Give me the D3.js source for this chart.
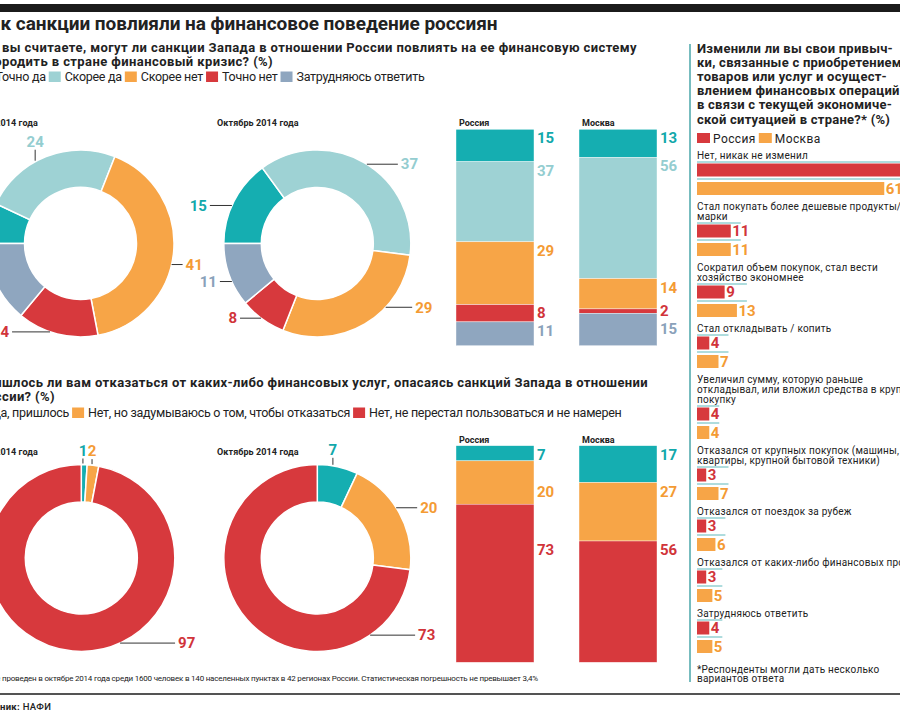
<!DOCTYPE html>
<html lang="ru">
<head>
<meta charset="utf-8">
<script src="https://cdn.jsdelivr.net/npm/d3@7/dist/d3.min.js"></script>
<style>
  body { margin: 0; background: #fff; }
  svg { display: block; fill: #222; font-family: Roboto, "Open Sans", sans-serif; }
  .num { font-weight: 700; font-size: 15px; }
</style>
</head>
<body>
<svg id="chart" width="900" height="720"></svg>
<script>
// ---- data ----
const chartTitle = 'Как санкции повлияли на финансовое поведение россиян';
const q1Lines = ['Как вы считаете, могут ли санкции Запада в отношении России повлиять на ее финансовую систему',
                 'и породить в стране финансовый кризис? (%)'];
const q1Answers = ['Точно да', 'Скорее да', 'Скорее нет', 'Точно нет', 'Затрудняюсь ответить'];
const q1Earlier = [7, 24, 41, 14, 14];
const q1October = [15, 37, 29, 8, 11];
const q1Russia = [15, 37, 29, 8, 11];
const q1Moscow = [13, 56, 14, 2, 15];

const q2Lines = ['Пришлось ли вам отказаться от каких-либо финансовых услуг, опасаясь санкций Запада в отношении',
                 'России? (%)'];
const q2Answers = ['Да, пришлось', 'Нет, но задумываюсь о том, чтобы отказаться', 'Нет, не перестал пользоваться и не намерен'];
const q2Earlier = [1, 2, 97];
const q2October = [7, 20, 73];
const q2Russia = [7, 20, 73];
const q2Moscow = [17, 27, 56];

const periodLabels = ['Июль 2014 года', 'Октябрь 2014 года'];
const regionLabels = ['Россия', 'Москва'];

const habitTitle = ['Изменили ли вы свои привыч-', 'ки, связанные с приобретением', 'товаров или услуг и осущест-',
                    'влением финансовых операций', 'в связи с текущей экономиче-', 'ской ситуацией в стране?* (%)'];
const habitItems = [
  'Нет, никак не изменил',
  'Стал покупать более дешевые продукты/\nмарки',
  'Сократил объем покупок, стал вести\nхозяйство экономнее',
  'Стал откладывать / копить',
  'Увеличил сумму, которую раньше\nоткладывал, или вложил средства в крупную\nпокупку',
  'Отказался от крупных покупок (машины,\nквартиры, крупной бытовой техники)',
  'Отказался от поездок за рубеж',
  'Отказался от каких-либо финансовых продуктов',
  'Затрудняюсь ответить'
];
const habitRussia = [71, 11, 9, 4, 4, 3, 3, 3, 4];
const habitMoscow = [61, 11, 13, 7, 4, 7, 6, 5, 5];
const habitNote = ['*Респонденты могли дать несколько', 'вариантов ответа'];

const surveyNote = 'Опрос проведен в октябре 2014 года среди 1600 человек в 140 населенных пунктах в 42 регионах России. Статистическая погрешность не превышает 3,4%';

// ---- styles ----
const TEAL = '#15aeb1', LTEAL = '#9ed2d4', ORANGE = '#f7a547', RED = '#d7393d', GREY = '#8fa6bf';
const q1Colors = [TEAL, LTEAL, ORANGE, RED, GREY];
const q1LabelColors = ['#12a8ab', '#94cdd0', '#f49b34', '#d1343a', '#8aa1ba'];
const q2Colors = [TEAL, ORANGE, RED];
const q2LabelColors = ['#12a8ab', '#f49b34', '#d1343a'];

const svg = d3.select('#chart');
const R_OUT = 93.5, R_IN = 56;
const SW = 12;

// letter-spacing that makes str come out `width` px wide
function spacingFor(str, size, weight, width) {
  const t = svg.append('text').attr('font-size', size).attr('font-weight', weight).text(str);
  const w = t.node().getComputedTextLength();
  t.remove();
  return (width - w) / str.length;
}

// text whose first `cut` characters fall left of the frame; visible part starts at x
function cutText(parent, full, cut, x, y, size, weight, ls) {
  const t = parent.append('text').attr('y', y).attr('font-size', size)
    .attr('font-weight', weight).attr('letter-spacing', ls).text(full);
  const shift = cut ? t.node().getSubStringLength(0, cut) : 0;
  t.attr('x', x - shift);
  return t;
}

function legend(labels, colors, y, visX, cut, ls) {
  let x = 0;
  labels.forEach((lab, i) => {
    const t = svg.append('text').attr('y', y).attr('font-size', 12.5).attr('letter-spacing', ls).text(lab);
    const tx = i === 0 ? visX - t.node().getSubStringLength(0, cut) : x + SW + 4;
    svg.append('rect').attr('x', tx - SW - 4).attr('y', y - 9.5).attr('width', SW).attr('height', 10.5)
      .attr('fill', colors[i]);
    t.attr('x', tx);
    x = tx + t.node().getComputedTextLength() + 3;
  });
}

function donut(cx, cy, values, colors, labelColors, startDeg, leaders) {
  const a0 = startDeg * Math.PI / 180;
  const pie = d3.pie().sort(null).startAngle(a0).endAngle(a0 + 2 * Math.PI);
  const arc = d3.arc().innerRadius(R_IN).outerRadius(R_OUT);
  const g = svg.append('g').attr('transform', `translate(${cx},${cy})`);
  g.selectAll('path').data(pie(values)).join('path')
    .attr('d', arc)
    .attr('fill', (d, i) => colors[i])
    .attr('stroke', '#fff').attr('stroke-width', 1.5);

  values.forEach((v, i) => {
    const [deg, len, dir] = leaders[i];
    const a = deg * Math.PI / 180;
    const px = R_OUT * Math.sin(a), py = -R_OUT * Math.cos(a);
    const line = g.append('line').attr('stroke', '#333').attr('stroke-width', 1);
    const t = g.append('text').attr('class', 'num').attr('fill', labelColors[i]).text(v);
    if (dir === 'v') {
      line.attr('x1', px).attr('x2', px).attr('y1', py - 1).attr('y2', py - len);
      t.attr('x', px).attr('y', py - len - 3).attr('text-anchor', 'middle');
    } else {
      const s = Math.sin(a) < 0 ? -1 : 1;
      line.attr('x1', px).attr('x2', px + s * len).attr('y1', py).attr('y2', py);
      t.attr('x', px + s * (len + 3)).attr('y', py).attr('dy', '0.35em')
        .attr('text-anchor', s < 0 ? 'end' : 'start');
    }
  });
}

function stackedBars(top, height, series, colors, labelColors, alignRows) {
  const x = d3.scaleBand().domain(regionLabels).range([456, 657]).paddingInner(0.366);
  const y = d3.scaleLinear().domain([0, 100]).range([top, top + height]);
  const starts = series.map(v => [0, ...d3.cumsum(v)].slice(0, v.length));
  const GAP = 18;

  series.forEach((vals, b) => {
    const reg = regionLabels[b];
    const g = svg.append('g');
    g.append('text').attr('x', x(reg) + 3).attr('y', top - 3)
      .attr('font-size', 9).attr('font-weight', 700).text(reg);
    g.selectAll('rect').data(vals).join('rect')
      .attr('x', x(reg))
      .attr('y', (d, i) => y(starts[b][i]))
      .attr('width', x.bandwidth())
      .attr('height', d => y(d) - y(0))
      .attr('fill', (d, i) => colors[i])
      .attr('stroke', '#fff').attr('stroke-width', 0.4);

    // label rows: at segment top, spread apart when two would collide
    const ys = vals.map((v, i) => (alignRows ? d3.max(starts, s => y(s[i])) : y(starts[b][i])) + 14);
    for (let i = 1; i < ys.length; i++) {
      const need = ys[i - 1] + GAP - ys[i];
      if (need > 0) {
        const room = i > 1 ? ys[i - 1] - (ys[i - 2] + GAP) : Infinity;
        const up = Math.min(need / 2, Math.max(0, room));
        ys[i - 1] -= up;
        ys[i] += need - up;
      }
    }
    vals.forEach((v, i) => {
      g.append('text').attr('class', 'num').attr('fill', labelColors[i])
        .attr('x', x(reg) + x.bandwidth() + 3).attr('y', ys[i]).text(v);
    });
  });
}

// ---- frame ----
svg.append('rect').attr('x', 0).attr('y', 4).attr('width', 900).attr('height', 8).attr('fill', '#1b1b1b');
svg.append('line').attr('x1', 0).attr('x2', 900).attr('y1', 694).attr('y2', 694)
  .attr('stroke', '#1b1b1b').attr('stroke-width', 1.5);
svg.append('line').attr('x1', 690).attr('x2', 690).attr('y1', 44).attr('y2', 682)
  .attr('stroke', '#4aa6aa').attr('stroke-width', 1.5);

// ---- headings ----
cutText(svg, chartTitle, 2, 0.5, 30, 19, 700, spacingFor(chartTitle.slice(2), 19, 700, 497));

const q1Ls = spacingFor(q1Lines[0].slice(4), 13, 700, 635);
cutText(svg, q1Lines[0], 4, 2, 51.5, 13, 700, q1Ls);
cutText(svg, q1Lines[1], 4, 2, 65.5, 13, 700, q1Ls);
legend(q1Answers, q1Colors, 81, 2, 1, spacingFor(q1Answers[4], 12.5, 400, 128));

const q2Ls = spacingFor(q2Lines[0].slice(3), 13, 700, 646);
cutText(svg, q2Lines[0], 3, 2, 387, 13, 700, q2Ls);
cutText(svg, q2Lines[1], 3, 2, 401, 13, 700, q2Ls);
legend(q2Answers, q2Colors, 417, 0.5, 1, spacingFor(q2Answers[1], 12.5, 400, 262));

// ---- question 1 ----
cutText(svg, periodLabels[0], 6, 0.5, 126, 9, 700, 0.1);
svg.append('text').attr('x', 217).attr('y', 126).attr('font-size', 9).attr('font-weight', 700)
  .attr('letter-spacing', 0.1).text(periodLabels[1]);

// leader placement: [angle clockwise from top, length, direction]
const leadQ1Earlier = [[283, 18, 'h'], [331, 12, 'v'], [103, 11, 'h'], [199, 38, 'h'], [245, 15, 'h']];
const leadQ1October = [[294, 22, 'h'], [32, 31, 'h'], [133, 26.5, 'h'], [217, 21, 'h'], [246, 12, 'h']];
donut(80.5, 243.5, q1Earlier, q1Colors, q1LabelColors, -90, leadQ1Earlier);
donut(317.3, 243.5, q1October, q1Colors, q1LabelColors, -90, leadQ1October);
stackedBars(129.3, 216.4, [q1Russia, q1Moscow], q1Colors, q1LabelColors, false);

// ---- question 2 ----
cutText(svg, periodLabels[0], 6, 0.5, 455, 9, 700, 0.1);
svg.append('text').attr('x', 217).attr('y', 455).attr('font-size', 9).attr('font-weight', 700)
  .attr('letter-spacing', 0.1).text(periodLabels[1]);

const leadQ2Earlier = [[1, 6, 'v'], [6.6, 6, 'v'], [155.5, 55, 'h']];
const leadQ2October = [[9.6, 8, 'v'], [57.5, 21, 'h'], [145.6, 45, 'h']];
donut(81.3, 558, q2Earlier, q2Colors, q2LabelColors, 0, leadQ2Earlier);
donut(317.3, 558, q2October, q2Colors, q2LabelColors, 0, leadQ2October);
stackedBars(445.7, 216.6, [q2Russia, q2Moscow], q2Colors, q2LabelColors, true);

// ---- footnotes ----
cutText(svg, surveyNote, 6, 2, 681, 8, 400, spacingFor(surveyNote.slice(6), 8, 400, 536));
const src = svg.append('text').attr('y', 710).attr('font-size', 9.5).attr('letter-spacing', 0.3);
src.append('tspan').attr('font-weight', 700).text('Источник:');
src.append('tspan').attr('font-weight', 500).text(' НАФИ');
src.attr('x', 0 - src.node().getSubStringLength(0, 5));

// ---- habits panel ----
const PX = 697;
const titleLs = spacingFor(habitTitle[0], 13, 700, 196);
habitTitle.forEach((ln, k) => {
  svg.append('text').attr('x', PX).attr('y', 52.5 + k * 14.2).attr('font-size', 13)
    .attr('font-weight', 700).attr('letter-spacing', titleLs).text(ln);
});

let lx = PX;
regionLabels.forEach((reg, i) => {
  svg.append('rect').attr('x', lx).attr('y', 133).attr('width', 13).attr('height', 10)
    .attr('fill', [RED, ORANGE][i]);
  const t = svg.append('text').attr('x', lx + 16).attr('y', 142.5).attr('font-size', 12)
    .attr('letter-spacing', 0.4).text(reg);
  lx += 16 + t.node().getComputedTextLength() + 3;
});

const hx = d3.scaleLinear().domain([0, 100]).range([PX, PX + 307]);
const itemLs = spacingFor(habitItems[0], 10, 400, 111);
let rowY = 155;
habitItems.forEach((item, i) => {
  const lines = item.split('\n');
  lines.forEach((ln, k) => {
    svg.append('text').attr('x', PX).attr('y', rowY + k * 10).attr('dy', '0.35em')
      .attr('font-size', 10).attr('letter-spacing', itemLs).text(ln);
  });
  const last = rowY + (lines.length - 1) * 10;
  const redC = last + 15, orC = last + 33.5;
  const guideEnd = i === 0 ? 900 : hx(Math.max(habitRussia[i], habitMoscow[i])) + 10;

  [last + 7, redC + 9].forEach(gy => {
    svg.append('line').attr('x1', PX).attr('x2', guideEnd).attr('y1', gy).attr('y2', gy)
      .attr('stroke', '#5fb9bc').attr('stroke-width', 1);
  });

  [[habitRussia[i], redC, RED, '#d1343a'], [habitMoscow[i], orC, ORANGE, '#f49b34']].forEach(([v, cy, c, lc]) => {
    svg.append('rect').attr('x', hx(0)).attr('y', cy - 6.5).attr('width', hx(v) - hx(0)).attr('height', 13)
      .attr('fill', c);
    svg.append('text').attr('class', 'num').attr('fill', lc).attr('x', hx(v) + 1.5).attr('y', cy)
      .attr('dy', '0.35em').text(v);
  });
  rowY = last + 51;
});

habitNote.forEach((ln, k) => {
  svg.append('text').attr('x', PX).attr('y', rowY + 5 + k * 9.5).attr('dy', '0.35em')
    .attr('font-size', 10).attr('letter-spacing', itemLs).text(ln);
});
</script>
</body>
</html>
